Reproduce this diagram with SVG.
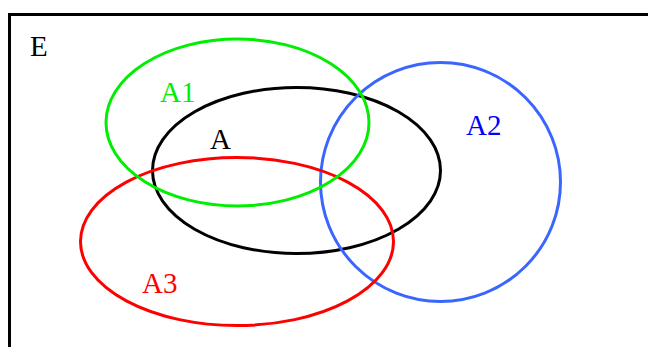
<svg xmlns="http://www.w3.org/2000/svg" width="648" height="347" viewBox="0 0 648 347">
<style>
.set{fill:none;stroke-width:3}
.lbl{font-family:"Liberation Serif",serif;font-size:29px}
</style>
<rect width="648" height="347" fill="#fff"/>
<g id="E">
<rect x="9.5" y="14.5" width="660" height="360" fill="none" stroke="#000" stroke-width="3"/>
<text class="lbl" x="30" y="56" fill="#000">E</text>
</g>
<g id="A">
<ellipse class="set" cx="296.5" cy="170.5" rx="144" ry="83" stroke="#000"/>
<text class="lbl" x="210" y="149" fill="#000">A</text>
</g>
<g id="A2">
<ellipse class="set" cx="440.5" cy="182" rx="120" ry="119.5" stroke="#3a66ff"/>
<text class="lbl" x="466" y="135" fill="#0000ff">A2</text>
</g>
<g id="A3">
<ellipse class="set" cx="237" cy="241.5" rx="156.5" ry="84" stroke="#ff0000"/>
<text class="lbl" x="142" y="293" fill="#ff0000">A3</text>
</g>
<g id="A1">
<ellipse class="set" cx="237.5" cy="122.5" rx="131.5" ry="83.5" stroke="#00ee00"/>
<text class="lbl" x="160" y="102" fill="#00ee00">A1</text>
</g>
<g id="connectors"/>
</svg>
